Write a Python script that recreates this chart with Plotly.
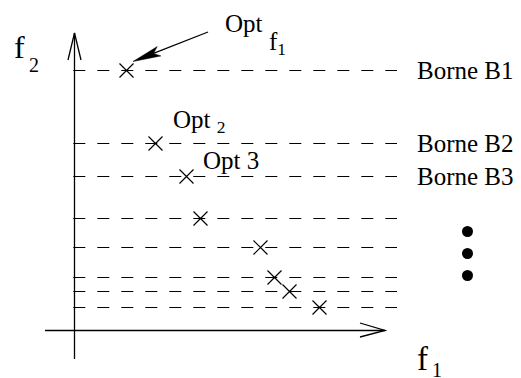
import math
import plotly.graph_objects as go

# niveaux f2 des bornes successives ; chaque optimum est posé sur sa borne
bornes_f2 = [26.0, 18.7, 15.4, 11.2, 8.3, 5.3, 3.9, 2.3]
optima_f1 = [5.2, 8.1, 11.2, 12.6, 18.6, 20.0, 21.5, 24.5]
optima_f2 = [26.0, 18.7, 15.4, 11.2, 8.3, 5.3, 3.9, 2.3]
noms_bornes = ["Borne B1", "Borne B2", "Borne B3"]
suite_f1 = [39.3, 39.3, 39.3]
suite_f2 = [9.9, 7.7, 5.5]

NOIR = "#000000"
SERIF = "Liberation Serif, Times New Roman, serif"
W, H = 521, 378
MARGE = 8             # marge par défaut du <body> de la page
ECH = 10.0            # pixels par unité
X0, Y0 = 74.5, 330.5  # origine des axes, en pixels de la fenêtre


def dx(px):
    return (px - X0) / ECH


def dy(py):
    return (Y0 - py) / ECH


def label(texte, px, py, taille):
    # py = centre vertical de la boîte de texte, en pixels
    return dict(x=dx(px), y=dy(py), xref="x", yref="y", text=texte,
                showarrow=False, xanchor="left", yanchor="middle",
                font=dict(family=SERIF, size=taille, color=NOIR))


fig = go.Figure()

for b in bornes_f2:
    fig.add_trace(go.Scatter(
        x=[dx(73.3), dx(397)], y=[b, b],
        mode="lines",
        line=dict(color=NOIR, width=1, dash="12px,12px"),
        hoverinfo="skip",
    ))

fig.add_trace(go.Scatter(
    x=optima_f1, y=optima_f2,
    mode="markers",
    marker=dict(symbol="x-thin", size=14, color=NOIR,
                line=dict(color=NOIR, width=1.2)),
    hoverinfo="skip",
))

fig.add_trace(go.Scatter(
    x=suite_f1, y=suite_f2,
    mode="markers",
    marker=dict(symbol="circle", size=11, color=NOIR),
    hoverinfo="skip",
))

# axes avec flèches ouvertes
shapes = [
    dict(type="line", x0=0, x1=0, y0=dy(359), y1=dy(33),
         line=dict(color=NOIR, width=1.3)),
    dict(type="line", x0=dx(45), x1=dx(385), y0=0, y1=0,
         line=dict(color=NOIR, width=1.3)),
    dict(type="path",
         path=f"M {dx(68)},{dy(60)} L 0,{dy(33)} L {dx(81)},{dy(60)}",
         line=dict(color=NOIR, width=1.3)),
    dict(type="path",
         path=f"M {dx(360)},{dy(323)} L {dx(385)},0 L {dx(360)},{dy(337)}",
         line=dict(color=NOIR, width=1.3)),
]

# flèche pleine vers l'optimum de f1
tip, tail = (133.0, 61.5), (208.0, 32.0)
lx, ly = tip[0] - tail[0], tip[1] - tail[1]
n = math.hypot(lx, ly)
ux, uy = lx / n, ly / n
nx, ny = -uy, ux
L, w, cran = 28.0, 5.0, 6.0
bx, by = tip[0] - L * ux, tip[1] - L * uy
cx, cy = tip[0] - (L - cran) * ux, tip[1] - (L - cran) * uy
shapes.append(dict(type="line", x0=dx(tail[0]), y0=dy(tail[1]),
                   x1=dx(cx), y1=dy(cy), line=dict(color=NOIR, width=1.3)))
shapes.append(dict(
    type="path",
    path=(f"M {dx(tip[0])},{dy(tip[1])} L {dx(bx + w * nx)},{dy(by + w * ny)} "
          f"L {dx(cx)},{dy(cy)} L {dx(bx - w * nx)},{dy(by - w * ny)} Z"),
    fillcolor=NOIR, line=dict(color=NOIR, width=0.5),
))

annotations = [
    label("f", 12, 47.2, 32),
    label("2", 27, 65.2, 20),
    label("f", 415, 359, 33),
    label("1", 430, 369.5, 20),
    label("Opt", 222.5, 23.5, 25),
    label("f<sub>1</sub>", 266.5, 43.4, 25),
    label("Opt <sub>2</sub>", 171, 121.4, 25),
    label("Opt 3", 200.5, 160.6, 25),
]
for nom, b in zip(noms_bornes, bornes_f2):
    annotations.append(label(nom, 414.5, Y0 - b * ECH, 25))

fig.update_layout(
    width=W - MARGE, height=H - MARGE,
    margin=dict(l=0, r=0, t=0, b=0),
    paper_bgcolor="#FFFFFF",
    plot_bgcolor="#FFFFFF",
    showlegend=False,
    xaxis=dict(range=[dx(MARGE), dx(W)], visible=False, fixedrange=True),
    yaxis=dict(range=[dy(H), dy(MARGE)], visible=False, fixedrange=True),
    shapes=shapes,
    annotations=annotations,
)

fig.write_html("out.html", config={"displayModeBar": False})
